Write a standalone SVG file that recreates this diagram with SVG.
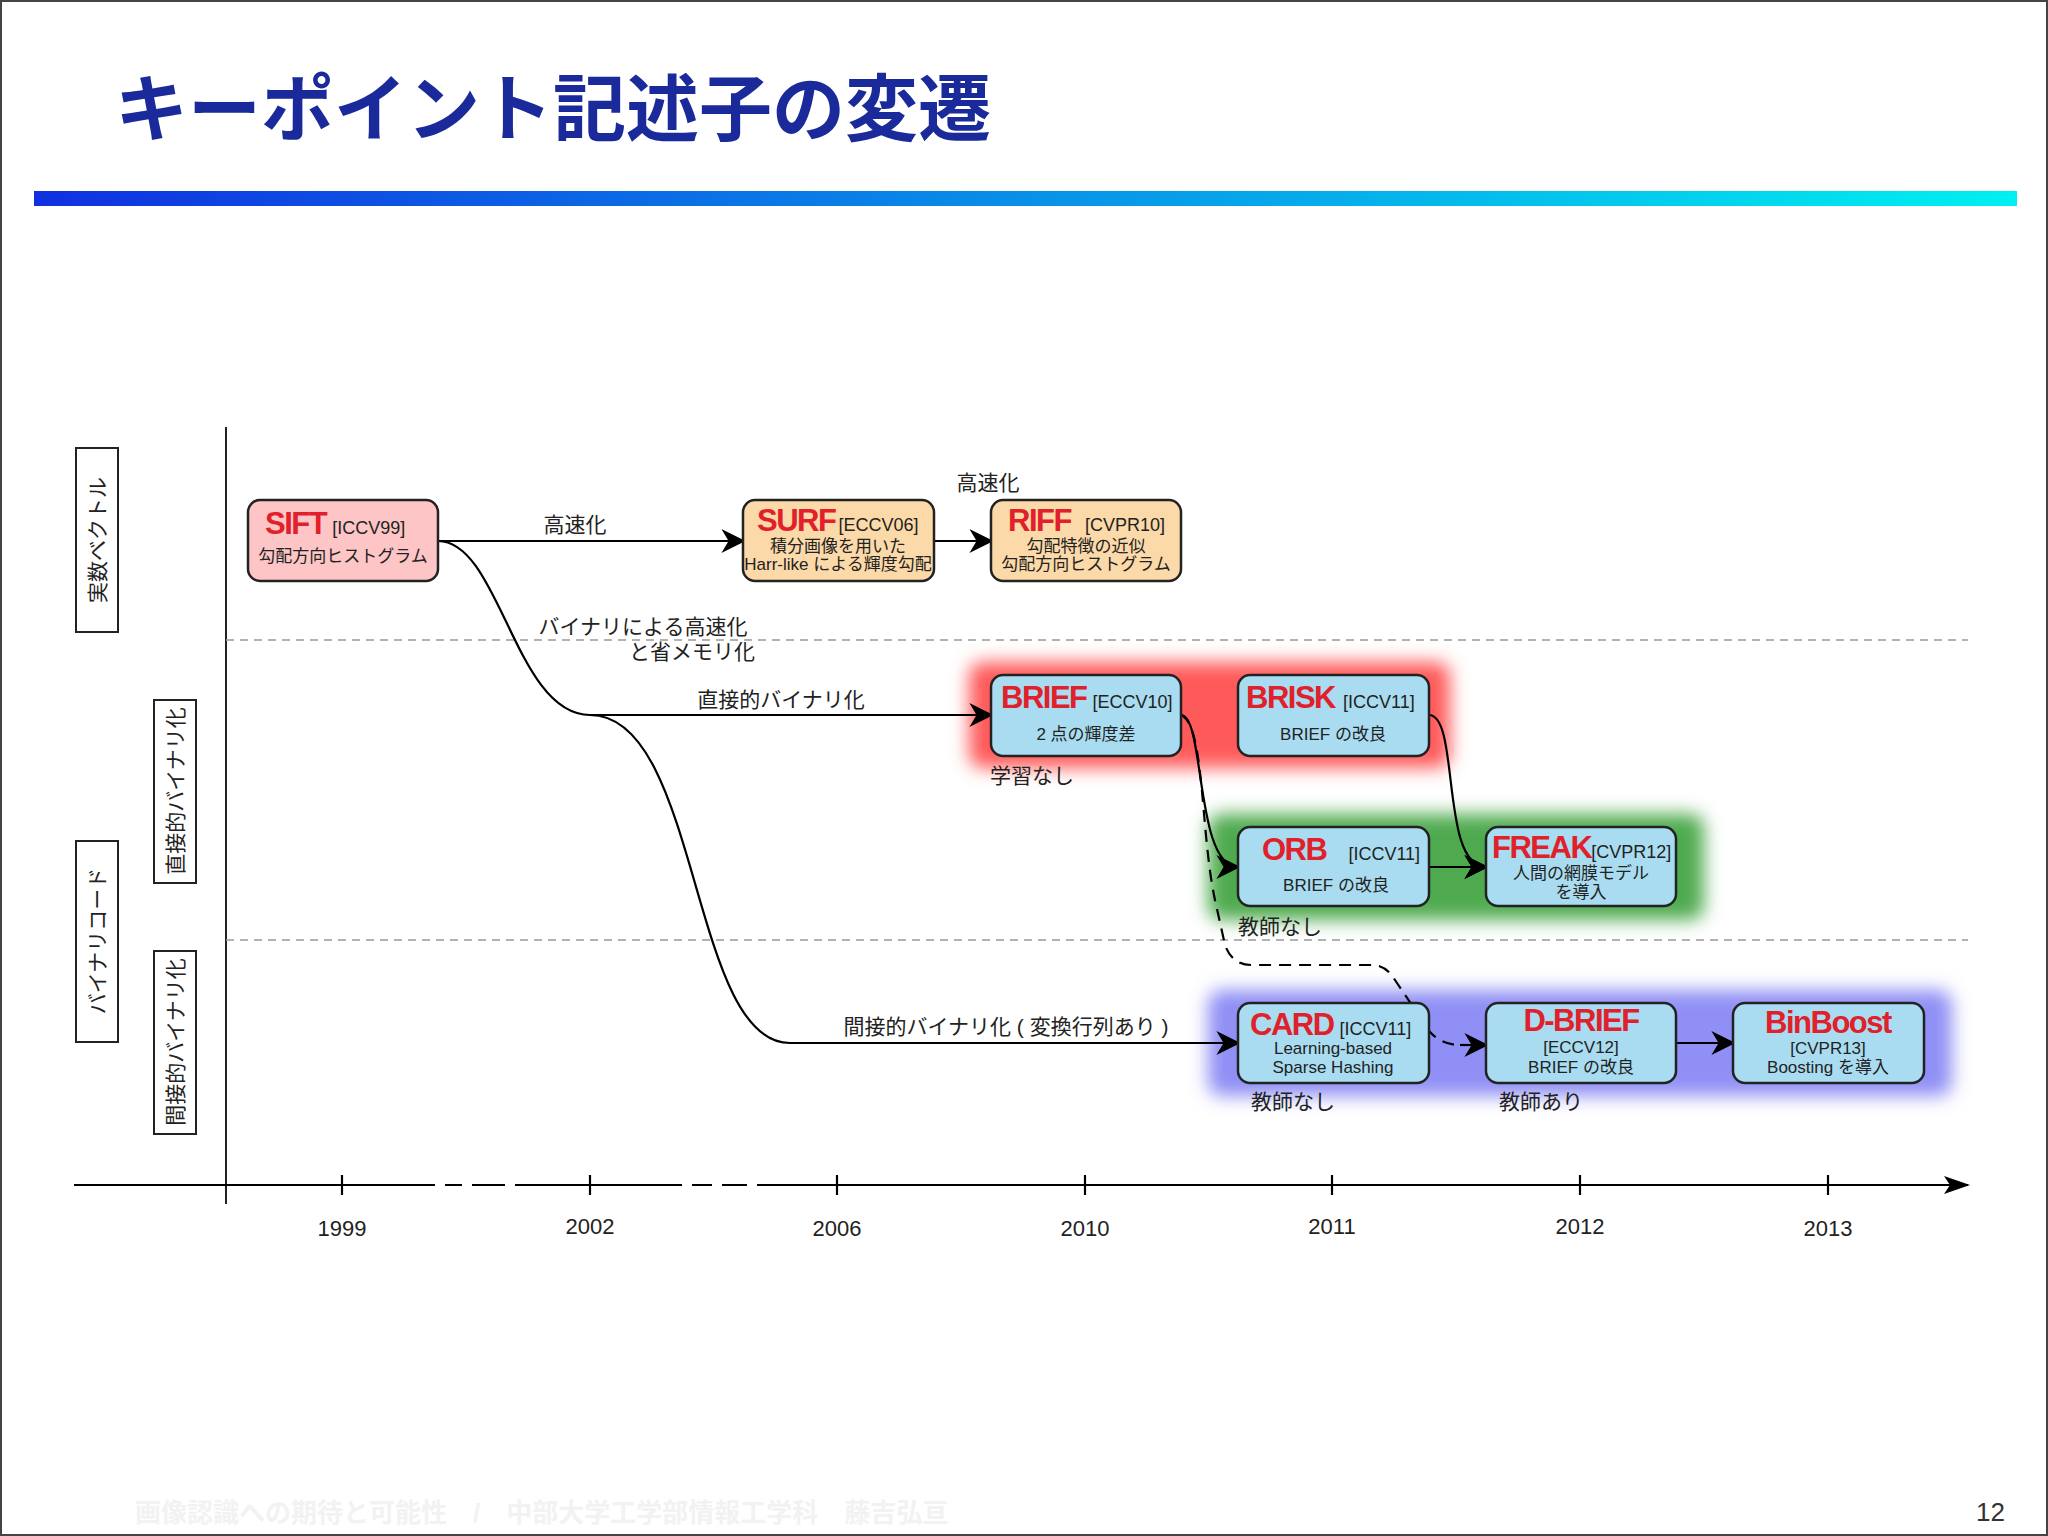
<svg xmlns="http://www.w3.org/2000/svg" width="2048" height="1536" viewBox="0 0 2048 1536">
<defs>
<linearGradient id="bar" x1="0" x2="1" y1="0" y2="0"><stop offset="0" stop-color="#1030e0"/><stop offset="1" stop-color="#00f0f0"/></linearGradient>
<filter id="blur" x="-20%" y="-40%" width="140%" height="180%"><feGaussianBlur stdDeviation="9"/></filter>
<marker id="arb" viewBox="0 0 10 10" refX="9" refY="5" markerWidth="24" markerHeight="24" markerUnits="userSpaceOnUse" orient="auto"><path d="M0,0 L10,5 L0,10 L3,5 z" fill="#000"/></marker>
<style>
text{font-family:"Liberation Sans","Noto Sans CJK JP",sans-serif;}
.nd{stroke:#222;stroke-width:2.5;}
.blue{fill:#a9dcf0;}
.t{fill:#e0202a;font-weight:bold;font-size:31px;letter-spacing:-1.5px;}
.c{font-size:18px;fill:#222;}
.s{font-size:17px;fill:#222;text-anchor:middle;}
.l{font-size:21px;fill:#222;}
.yr{font-size:22px;fill:#222;text-anchor:middle;}
.sep{stroke:#999;stroke-width:1.5;stroke-dasharray:8 6;fill:none;}
.cn{stroke:#000;stroke-width:2.2;fill:none;}
.vl{font-size:21px;fill:#222;}
</style>
</defs>
<rect x="0" y="0" width="2048" height="1536" fill="#fff"/>
<rect x="1" y="1" width="2046" height="1534" fill="none" stroke="#444" stroke-width="2"/>
<text x="115" y="135" font-size="73" font-weight="bold" fill="#1a2a9a" style="font-family:'Noto Sans CJK JP',sans-serif">キーポイント記述子の変遷</text>
<rect x="34" y="191" width="1983" height="15" fill="url(#bar)"/>
<text x="135" y="1522" font-size="26" font-weight="bold" fill="#f2f2f2">画像認識への期待と可能性　/　中部大学工学部情報工学科　藤吉弘亘</text>
<text x="2005" y="1521" font-size="26" fill="#333" text-anchor="end">12</text>

<g id="axes">
<line x1="226" y1="427" x2="226" y2="1204" stroke="#222" stroke-width="2"/>
<line class="sep" x1="226" y1="640" x2="1968" y2="640"/>
<line class="sep" x1="226" y1="940" x2="1968" y2="940"/>
<path d="M74,1185 H435 M445,1185 H462 M472,1185 H505 M515,1185 H682 M692,1185 H712 M722,1185 H747 M757,1185 H1968" stroke="#000" stroke-width="2.2" fill="none"/>
<path d="M1944,1176 L1970,1185 L1944,1194 L1950,1185 z" fill="#000"/>
<g stroke="#000" stroke-width="2.2">
<line x1="342" y1="1175" x2="342" y2="1195"/><line x1="590" y1="1175" x2="590" y2="1195"/><line x1="837" y1="1175" x2="837" y2="1195"/><line x1="1085" y1="1175" x2="1085" y2="1195"/><line x1="1332" y1="1175" x2="1332" y2="1195"/><line x1="1580" y1="1175" x2="1580" y2="1195"/><line x1="1828" y1="1175" x2="1828" y2="1195"/>
</g>
<text class="yr" x="342" y="1236">1999</text><text class="yr" x="590" y="1234">2002</text><text class="yr" x="837" y="1236">2006</text><text class="yr" x="1085" y="1236">2010</text><text class="yr" x="1332" y="1234">2011</text><text class="yr" x="1580" y="1234">2012</text><text class="yr" x="1828" y="1236">2013</text>
</g>

<g id="sidelabels">
<rect x="76" y="448" width="42" height="184" fill="#fff" stroke="#222" stroke-width="2"/>
<text class="vl" transform="translate(105,540) rotate(-90)" text-anchor="middle">実数ベクトル</text>
<rect x="76" y="841" width="42" height="201" fill="#fff" stroke="#222" stroke-width="2"/>
<text class="vl" transform="translate(105,941) rotate(-90)" text-anchor="middle">バイナリコード</text>
<rect x="154" y="700" width="42" height="183" fill="#fff" stroke="#222" stroke-width="2"/>
<text class="vl" transform="translate(183,791) rotate(-90)" text-anchor="middle">直接的バイナリ化</text>
<rect x="154" y="951" width="42" height="183" fill="#fff" stroke="#222" stroke-width="2"/>
<text class="vl" transform="translate(183,1042) rotate(-90)" text-anchor="middle">間接的バイナリ化</text>
</g>

<g id="glows" filter="url(#blur)">
<rect x="969" y="662" width="481" height="106" rx="14" fill="#ff5a5a"/>
<rect x="1208" y="814" width="496" height="106" rx="14" fill="#4faa4f"/>
<rect x="1208" y="990" width="744" height="106" rx="14" fill="#8f8ff5"/>
</g>

<g id="connectors">
<path class="cn" d="M438,541 H743" marker-end="url(#arb)"/>
<path class="cn" d="M934,541 H991" marker-end="url(#arb)"/>
<path class="cn" d="M438,541 C500,541 515,715 590,715 H991" marker-end="url(#arb)"/>
<path class="cn" d="M590,715 C700,715 690,1043 790,1043 H1238" marker-end="url(#arb)"/>
<path class="cn" d="M1181,715 C1205,715 1195,867 1238,867" marker-end="url(#arb)"/>
<path class="cn" d="M1429,715 C1460,715 1440,867 1486,867" marker-end="url(#arb)"/>
<path class="cn" d="M1429,867 H1486" marker-end="url(#arb)"/>
<path class="cn" d="M1676,1043 H1733" marker-end="url(#arb)"/>
<path class="cn" d="M1181,715 C1205,725 1200,830 1215,900 L1225,945 Q1232,965 1252,965 L1372,965 Q1386,965 1395,980 L1430,1032 Q1440,1043 1456,1045" stroke-dasharray="12 8"/>
<path class="cn" d="M1460,1045 H1486" marker-end="url(#arb)"/>
<text class="l" x="575" y="532" text-anchor="middle">高速化</text>
<text class="l" x="988" y="490" text-anchor="middle">高速化</text>
<text class="l" x="643" y="634" text-anchor="middle">バイナリによる高速化</text>
<text class="l" x="692" y="659" text-anchor="middle">と省メモリ化</text>
<text class="l" x="781" y="707" text-anchor="middle">直接的バイナリ化</text>
<text class="l" x="1006" y="1034" text-anchor="middle">間接的バイナリ化 ( 変換行列あり )</text>
<text class="l" x="1032" y="783" text-anchor="middle">学習なし</text>
<text class="l" x="1280" y="934" text-anchor="middle">教師なし</text>
<text class="l" x="1293" y="1109" text-anchor="middle">教師なし</text>
<text class="l" x="1541" y="1109" text-anchor="middle">教師あり</text>
</g>

<g id="SIFT"><rect class="nd" x="248" y="500" width="190" height="81" rx="12" fill="#fdc5c5"/>
<text x="265" y="534"><tspan class="t">SIFT</tspan><tspan class="c" dx="6">[ICCV99]</tspan></text>
<text class="s" x="343" y="562">勾配方向ヒストグラム</text></g>
<g id="SURF"><rect class="nd" x="743" y="500" width="191" height="81" rx="12" fill="#fcd9a8"/>
<text x="757" y="531"><tspan class="t">SURF</tspan><tspan class="c" dx="3">[ECCV06]</tspan></text>
<text class="s" x="838" y="552" font-size="15">積分画像を用いた</text>
<text class="s" x="838" y="570" font-size="15">Harr-like による輝度勾配</text></g>
<g id="RIFF"><rect class="nd" x="991" y="500" width="190" height="81" rx="12" fill="#fcd9a8"/>
<text x="1008" y="531"><tspan class="t">RIFF</tspan><tspan class="c" dx="14">[CVPR10]</tspan></text>
<text class="s" x="1086" y="552" font-size="15">勾配特徴の近似</text>
<text class="s" x="1086" y="570" font-size="15">勾配方向ヒストグラム</text></g>
<g id="BRIEF"><rect class="nd blue" x="991" y="675" width="190" height="81" rx="12"/>
<text x="1001" y="708"><tspan class="t">BRIEF</tspan><tspan class="c" dx="6">[ECCV10]</tspan></text>
<text class="s" x="1086" y="740">2 点の輝度差</text></g>
<g id="BRISK"><rect class="nd blue" x="1238" y="675" width="191" height="81" rx="12"/>
<text x="1246" y="708"><tspan class="t">BRISK</tspan><tspan class="c" dx="8">[ICCV11]</tspan></text>
<text class="s" x="1333" y="740">BRIEF の改良</text></g>
<g id="ORB"><rect class="nd blue" x="1238" y="827" width="191" height="79" rx="12"/>
<text x="1262" y="860"><tspan class="t">ORB</tspan><tspan class="c" dx="22">[ICCV11]</tspan></text>
<text class="s" x="1336" y="891" font-size="20">BRIEF の改良</text></g>
<g id="FREAK"><rect class="nd blue" x="1486" y="827" width="190" height="79" rx="12"/>
<text x="1492" y="858"><tspan class="t">FREAK</tspan><tspan class="c">[CVPR12]</tspan></text>
<text class="s" x="1581" y="879">人間の網膜モデル</text>
<text class="s" x="1581" y="898">を導入</text></g>
<g id="CARD"><rect class="nd blue" x="1238" y="1003" width="191" height="80" rx="12"/>
<text x="1250" y="1035"><tspan class="t">CARD</tspan><tspan class="c" dx="6">[ICCV11]</tspan></text>
<text class="s" x="1333" y="1054">Learning-based</text>
<text class="s" x="1333" y="1073">Sparse Hashing</text></g>
<g id="DBRIEF"><rect class="nd blue" x="1486" y="1003" width="190" height="80" rx="12"/>
<text class="t" x="1581" y="1031" text-anchor="middle">D-BRIEF</text>
<text class="s" x="1581" y="1053">[ECCV12]</text>
<text class="s" x="1581" y="1073">BRIEF の改良</text></g>
<g id="BinBoost"><rect class="nd blue" x="1733" y="1003" width="191" height="80" rx="12"/>
<text class="t" x="1828" y="1033" text-anchor="middle">BinBoost</text>
<text class="s" x="1828" y="1054">[CVPR13]</text>
<text class="s" x="1828" y="1073">Boosting を導入</text></g>
</svg>
